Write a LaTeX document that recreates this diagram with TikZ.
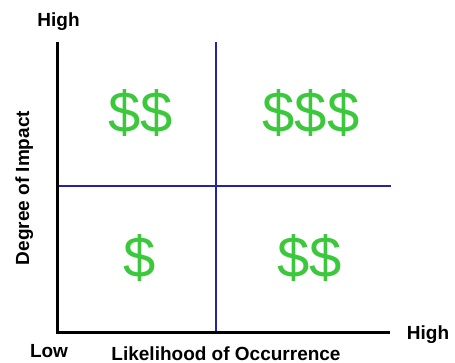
\documentclass[tikz,border=0pt]{standalone}
\usepackage{fontspec}
\setmainfont{Liberation Sans}
\definecolor{dollargreen}{RGB}{60,200,60}
\definecolor{gridblue}{RGB}{35,35,165}
\tikzset{
  axislabel/.style={font=\bfseries\fontsize{19}{21}\selectfont,inner sep=0pt,anchor=base},
  money/.style={font=\fontsize{58}{58}\selectfont,text=dollargreen,inner sep=0pt}
}
\begin{document}
\begin{tikzpicture}[x=1pt,y=-1pt]
\useasboundingbox (0,0) rectangle (455,363);
%\draw[step=10,gray,very thin] (0,0) grid (455,363);
\draw[gridblue,line width=2.4pt] (216,42)--(216,332);
\draw[gridblue,line width=2.4pt] (57,186)--(391,186);
\draw[black,line width=3pt,line join=miter] (57,42)--(57,332)--(390,332);
\node[axislabel] (high1) at (58.5,27) {High};
\node[axislabel] (high2) at (428,339) {High};
\node[axislabel] (low) at (49,357) {Low};
\node[axislabel] (xlab) at (226,360) {Likelihood of Occurrence};
\node[axislabel,rotate=90] (ylab) at (29,188) {Degree of Impact};
\node[money] (q2) at (141,113) {\$\$};
\node[money] (q1) at (311,113) {\$\$\$};
\node[money] (q3) at (140,258) {\$};
\node[money] (q4) at (310,258) {\$\$};
\end{tikzpicture}
\end{document}
